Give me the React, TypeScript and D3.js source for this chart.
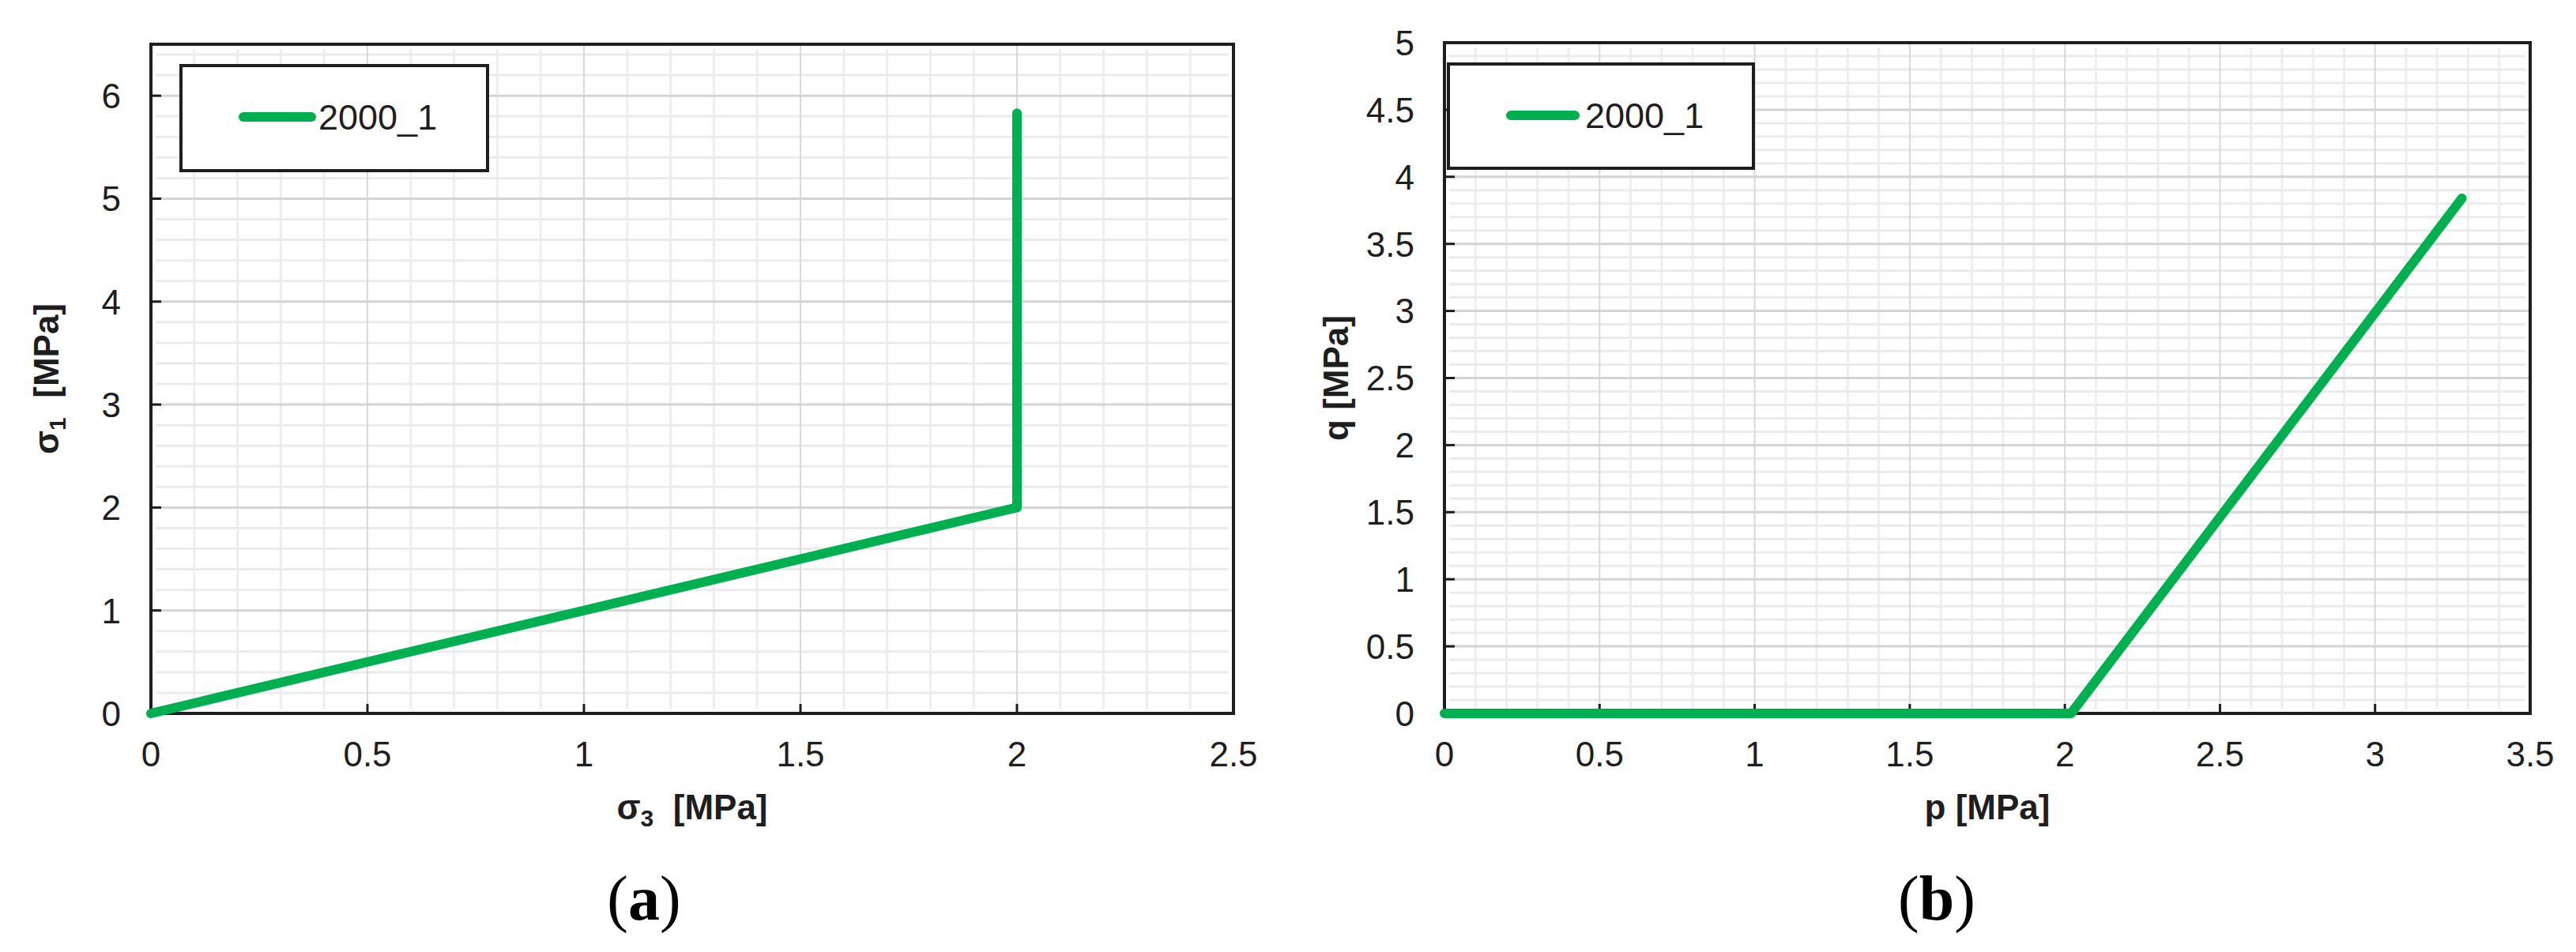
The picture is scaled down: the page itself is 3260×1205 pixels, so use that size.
import React from "react";
import * as d3 from "d3";

// ---- data ----
const seriesName = "2000_1";
const aSigma3 = [0, 2, 2];
const aSigma1 = [0, 2, 5.83];
const bP = [0, 2.02, 3.28];
const bQ = [0, 0, 3.84];

const aXTicks = [0, 0.5, 1, 1.5, 2, 2.5];
const aYTicks = [0, 1, 2, 3, 4, 5, 6];
const bXTicks = [0, 0.5, 1, 1.5, 2, 2.5, 3, 3.5];
const bYTicks = [0, 0.5, 1, 1.5, 2, 2.5, 3, 3.5, 4, 4.5, 5];

const GREEN = "#00b050";
const DARK = "#1e1e1e";
const SANS = "'Liberation Sans', Arial, sans-serif";
const SERIF = "'Liberation Serif', 'Times New Roman', serif";

type PanelProps = {
  xDomain: [number, number];
  yDomain: [number, number];
  left: number; right: number; top: number; bottom: number;
  xTicks: number[]; yTicks: number[];
  xMinor: number; yMinor: number;
  xs: number[]; ys: number[];
  legend: { x0: number; y0: number; x1: number; y1: number; lx0: number; lx1: number; ly: number; tx: number };
  xTitle: React.ReactNode; yTitle: React.ReactNode;
  yTitleX: number;
  label: string; labelX: number;
};

function Panel(p: PanelProps) {
  const x = d3.scaleLinear().domain(p.xDomain).range([p.left, p.right]);
  const y = d3.scaleLinear().domain(p.yDomain).range([p.bottom, p.top]);
  const eps = 1e-9;
  const xMinorVals = d3.range(p.xDomain[0], p.xDomain[1] + eps, p.xMinor).filter(v => !p.xTicks.some(t => Math.abs(t - v) < 1e-6));
  const yMinorVals = d3.range(p.yDomain[0], p.yDomain[1] + eps, p.yMinor).filter(v => !p.yTicks.some(t => Math.abs(t - v) < 1e-6));
  const line = d3.line<number>().x((_, i) => x(p.xs[i])).y((_, i) => y(p.ys[i]));
  const pathD = line(p.xs) || "";
  return (
    <g>
      {/* minor grid */}
      {xMinorVals.map((v, i) => (
        <line key={"xm" + i} x1={x(v)} x2={x(v)} y1={p.top + 6} y2={p.bottom - 6} stroke="#eeeeee" strokeWidth={3} />
      ))}
      {yMinorVals.map((v, i) => (
        <line key={"ym" + i} x1={p.left + 6} x2={p.right - 6} y1={y(v)} y2={y(v)} stroke="#ebebeb" strokeWidth={3} />
      ))}
      {/* major grid */}
      {p.xTicks.map((v, i) => (
        <line key={"xg" + i} x1={x(v)} x2={x(v)} y1={p.top} y2={p.bottom} stroke="#d9d9d9" strokeWidth={2} />
      ))}
      {p.yTicks.map((v, i) => (
        <line key={"yg" + i} x1={p.left} x2={p.right} y1={y(v)} y2={y(v)} stroke="#d4d4d4" strokeWidth={3} />
      ))}
      {/* ticks */}
      {p.xTicks.map((v, i) => (
        <line key={"xt" + i} x1={x(v)} x2={x(v)} y1={p.bottom} y2={p.bottom - 12} stroke={DARK} strokeWidth={3} />
      ))}
      {p.yTicks.map((v, i) => (
        <line key={"yt" + i} x1={p.left} x2={p.left + 13} y1={y(v)} y2={y(v)} stroke={DARK} strokeWidth={3} />
      ))}
      {/* frame */}
      <rect x={p.left} y={p.top} width={p.right - p.left} height={p.bottom - p.top} fill="none" stroke={DARK} strokeWidth={4} />
      {/* data */}
      <path d={pathD} fill="none" stroke={GREEN} strokeWidth={12} strokeLinecap="round" strokeLinejoin="round" />
      {/* tick labels */}
      {p.xTicks.map((v, i) => (
        <text key={"xl" + i} x={x(v)} y={p.bottom + 67} textAnchor="middle" fontFamily={SANS} fontSize={44} fill={DARK}>{String(v)}</text>
      ))}
      {p.yTicks.map((v, i) => (
        <text key={"yl" + i} x={p.left - 38} y={y(v)} dy="0.36em" textAnchor="end" fontFamily={SANS} fontSize={44} fill={DARK}>{String(v)}</text>
      ))}
      {/* legend */}
      <rect x={p.legend.x0} y={p.legend.y0} width={p.legend.x1 - p.legend.x0} height={p.legend.y1 - p.legend.y0} fill="#ffffff" stroke={DARK} strokeWidth={4} />
      <line x1={p.legend.lx0} x2={p.legend.lx1} y1={p.legend.ly} y2={p.legend.ly} stroke={GREEN} strokeWidth={12} strokeLinecap="round" />
      <text x={p.legend.tx} y={p.legend.ly + 16} fontFamily={SANS} fontSize={45} fill={DARK}>{seriesName}</text>
      {/* axis titles */}
      <text x={(p.left + p.right) / 2} y={p.bottom + 134} textAnchor="middle" fontFamily={SANS} fontSize={44} fontWeight="bold" fill={DARK}>{p.xTitle}</text>
      <text transform={`translate(${p.yTitleX},${(p.top + p.bottom) / 2}) rotate(-90)`} textAnchor="middle" fontFamily={SANS} fontSize={44} fontWeight="bold" fill={DARK}>{p.yTitle}</text>
      {/* panel label */}
      <text x={p.labelX} y={1164} textAnchor="middle" fontFamily={SERIF} fontSize={80} fill="#000">
        (<tspan fontWeight="bold">{p.label}</tspan>)
      </text>
    </g>
  );
}

export default function App() {
  return (
    <svg width={3260} height={1205} style={{ position: "absolute", left: 0, top: 0, background: "#fff" }}>
      <rect x={0} y={0} width={3260} height={1205} fill="#fff" />
      <Panel
        xDomain={[0, 2.5]} yDomain={[0, 6.5]}
        left={191} right={1561} top={56} bottom={903}
        xTicks={aXTicks} yTicks={aYTicks} xMinor={0.1} yMinor={0.2}
        xs={aSigma3} ys={aSigma1}
        legend={{ x0: 229, y0: 83, x1: 617, y1: 216, lx0: 308, lx1: 394, ly: 148, tx: 403 }}
        xTitle={<>σ<tspan dy={9} fontSize={30}>3</tspan><tspan dy={-9}>{"\u00a0\u00a0[MPa]"}</tspan></>}
        yTitle={<>σ<tspan dy={9} fontSize={30}>1</tspan><tspan dy={-9}>{"\u00a0\u00a0[MPa]"}</tspan></>}
        yTitleX={74}
        label="a" labelX={815}
      />
      <Panel
        xDomain={[0, 3.5]} yDomain={[0, 5]}
        left={1828} right={3202} top={54} bottom={903}
        xTicks={bXTicks} yTicks={bYTicks} xMinor={0.1} yMinor={0.1}
        xs={bP} ys={bQ}
        legend={{ x0: 1833, y0: 81, x1: 2219, y1: 213, lx0: 1912, lx1: 1993, ly: 146, tx: 2006 }}
        xTitle={<>p [MPa]</>}
        yTitle={<>q [MPa]</>}
        yTitleX={1706}
        label="b" labelX={2451}
      />
    </svg>
  );
}
